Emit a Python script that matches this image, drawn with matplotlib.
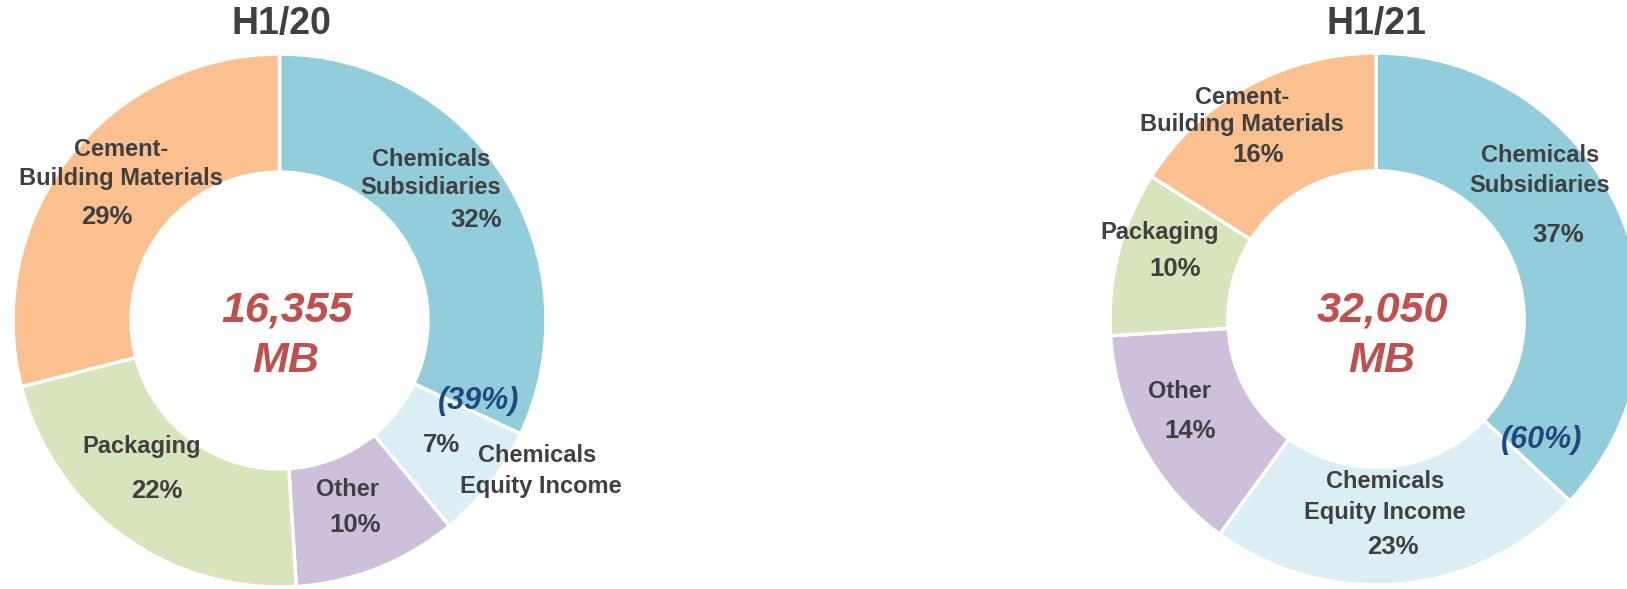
import matplotlib
matplotlib.use("Agg")
import matplotlib.pyplot as plt

# Segment shares (%) for each half-year
segments_h120 = ["Chemicals Subsidiaries", "Chemicals Equity Income", "Other",
                 "Packaging", "Cement-Building Materials"]
values_h120 = [32, 7, 10, 22, 29]
total_h120 = "16,355"

segments_h121 = ["Chemicals Subsidiaries", "Chemicals Equity Income", "Other",
                 "Packaging", "Cement-Building Materials"]
values_h121 = [37, 23, 14, 10, 16]
total_h121 = "32,050"

titles = ["H1/20", "H1/21"]
chem_share = [values_h120[0] + values_h120[1], values_h121[0] + values_h121[1]]

colors = ["#92CDDC", "#DAEEF3", "#CCC0DA", "#D8E4BC", "#FAC090"]
TEXT = "#404040"
RED = "#C0504D"
NAVY = "#1F497D"

W, H = 1627, 589
plt.rcParams["font.family"] = ["Liberation Sans", "DejaVu Sans"]

fig = plt.figure(figsize=(W / 100, H / 100), dpi=100)
ax = fig.add_axes([0, 0, 1, 1])


def Y(y_from_top):
    return H - y_from_top


# donut geometry (pixels, y measured from top)
donuts = [
    dict(values=values_h120, total=total_h120, cx=279.5, cy=320.5, r=266.5),
    dict(values=values_h121, total=total_h121, cx=1376.0, cy=319.0, r=266.0),
]

# label line layout: (text, x, y_from_top) for name lines
name_layout = [
    [  # H1/20
        [("Chemicals", 431, 159), ("Subsidiaries", 431, 188)],
        [("Chemicals", 537, 456), ("Equity Income", 541, 486)],
        [("Other", 348, 489)],
        [("Packaging", 142, 447)],
        [("Cement-", 121, 150), ("Building Materials", 121, 179)],
    ],
    [  # H1/21
        [("Chemicals", 1540, 156), ("Subsidiaries", 1540, 185)],
        [("Chemicals", 1385, 482), ("Equity Income", 1385, 512)],
        [("Other", 1180, 391)],
        [("Packaging", 1160, 233)],
        [("Cement-", 1242, 97), ("Building Materials", 1242, 125)],
    ],
]
pct_layout = [
    [(476, 220), (442, 445), (355, 525), (157, 491), (107, 217)],
    [(1558, 235), (1393, 547), (1190, 431), (1175, 269), (1258, 155)],
]
title_pos = [(281, 24), (1376, 24)]
center_pos = [((287, 311), (286, 361)), ((1382, 310), (1382, 361))]
share_pos = [(479, 401), (1542, 440)]

for i, d in enumerate(donuts):
    ax.pie(d["values"], colors=colors, startangle=90, counterclock=False,
           radius=d["r"], center=(d["cx"], Y(d["cy"])),
           wedgeprops=dict(width=d["r"] * 0.443, edgecolor="white",
                           linewidth=2.5))

    ax.text(title_pos[i][0], Y(title_pos[i][1]), titles[i], ha="center",
            va="center", fontsize=27, fontweight="bold", color=TEXT)

    for lines in name_layout[i]:
        for txt, x, y in lines:
            ax.text(x, Y(y), txt, ha="center", va="center", fontsize=17,
                    fontweight="bold", color=TEXT)
    for v, (x, y) in zip(d["values"], pct_layout[i]):
        ax.text(x, Y(y), f"{v}%", ha="center", va="center", fontsize=18.5,
                fontweight="bold", color=TEXT)

    (tx, ty), (mx, my) = center_pos[i]
    ax.text(tx, Y(ty), d["total"], ha="center", va="center", fontsize=31,
            fontweight="bold", fontstyle="italic", color=RED)
    ax.text(mx, Y(my), "MB", ha="center", va="center", fontsize=31,
            fontweight="bold", fontstyle="italic", color=RED)

    ax.text(share_pos[i][0], Y(share_pos[i][1]), f"({chem_share[i]}%)",
            ha="center", va="center", fontsize=22, fontweight="bold",
            fontstyle="italic", color=NAVY)

ax.set_xlim(0, W)
ax.set_ylim(0, H)
ax.set_aspect("equal")
ax.set_axis_off()

fig.savefig("out.png", dpi=100)
